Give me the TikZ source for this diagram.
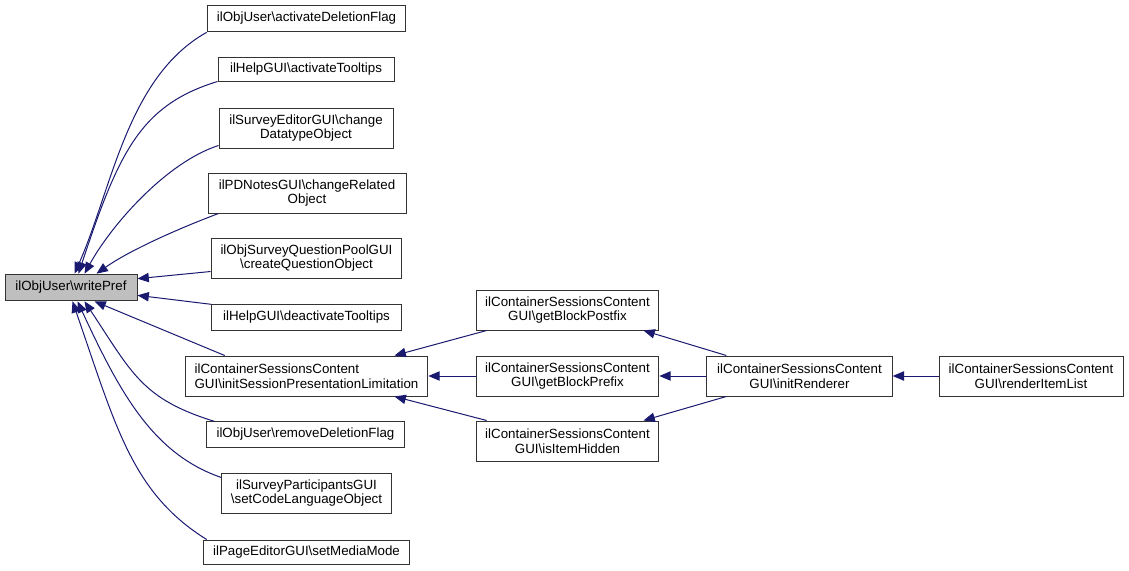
\documentclass[tikz,border=0pt]{standalone}
\usepackage{fontspec}
\setmainfont{Liberation Sans}
\usepackage{tikz}
\usetikzlibrary{arrows.meta,calc}
\definecolor{edgeblue}{HTML}{191970}

\begin{document}
\begin{tikzpicture}[x=0.75pt,y=0.75pt,yscale=-1,xscale=1,
  box/.style={draw=black!80,line width=0.75pt,fill=white,inner sep=0pt,
    font=\fontsize{10}{11}\selectfont,align=center},
  edge/.style={draw=edgeblue,line width=0.75pt,-{Triangle[length=8.5pt,width=7pt]}}]
\useasboundingbox (0,0) rectangle (1129,571);

% Text Node
\node [box,fill=black!25,minimum width=99pt,minimum height=20pt] (wp) at (71,287.5) {ilObjUser\textbackslash writePref};
% Text Node
\node [box,minimum width=149pt,minimum height=20pt] (delFlag) at (306.5,18.5) {ilObjUser\textbackslash activateDeletionFlag};
% Text Node
\node [box,minimum width=132pt,minimum height=18pt] (tips) at (306,69) {ilHelpGUI\textbackslash activateTooltips};
% Text Node
\node [box,minimum width=130.5pt,minimum height=30pt] (dtype) at (306,128) {ilSurveyEditorGUI\textbackslash change\\DatatypeObject};
% Text Node
\node [box,minimum width=148.5pt,minimum height=30pt] (related) at (307,193) {ilPDNotesGUI\textbackslash changeRelated\\Object};
% Text Node
\node [box,minimum width=143pt,minimum height=30pt] (question) at (306.5,258) {ilObjSurveyQuestionPoolGUI\\\textbackslash createQuestionObject};
% Text Node
\node [box,minimum width=142pt,minimum height=19pt] (deact) at (306.5,317.5) {ilHelpGUI\textbackslash deactivateTooltips};
% Text Node
\node [box,align=left,minimum width=182pt,minimum height=30pt] (limit) at (306.5,376) {ilContainerSessionsContent\\GUI\textbackslash initSessionPresentationLimitation};
% Text Node
\node [box,minimum width=148pt,minimum height=19pt] (remove) at (305.5,434.5) {ilObjUser\textbackslash removeDeletionFlag};
% Text Node
\node [box,minimum width=127pt,minimum height=30pt] (codelang) at (306.5,493) {ilSurveyParticipantsGUI\\\textbackslash setCodeLanguageObject};
% Text Node
\node [box,minimum width=155pt,minimum height=18pt] (media) at (306.5,552) {ilPageEditorGUI\textbackslash setMediaMode};
% Text Node
\node [box,minimum width=137pt,minimum height=30pt] (postfix) at (567.5,310) {ilContainerSessionsContent\\GUI\textbackslash getBlockPostfix};
% Text Node
\node [box,minimum width=137pt,minimum height=30pt] (prefix) at (567.5,376) {ilContainerSessionsContent\\GUI\textbackslash getBlockPrefix};
% Text Node
\node [box,minimum width=137pt,minimum height=30pt] (hidden) at (567.5,441) {ilContainerSessionsContent\\GUI\textbackslash isItemHidden};
% Text Node
\node [box,minimum width=139pt,minimum height=30pt] (renderer) at (799.5,376) {ilContainerSessionsContent\\GUI\textbackslash initRenderer};
% Text Node
\node [box,minimum width=138pt,minimum height=30pt] (itemlist) at (1031,376) {ilContainerSessionsContent\\GUI\textbackslash renderItemList};

%Curve Lines
\draw [edge] (delFlag.south west) .. controls (127,77) and (112,189) .. ($(wp.north west)+(70,0)$);
%Curve Lines
\draw [edge] (tips.south west) .. controls (141,105) and (119,151) .. ($(wp.north west)+(74,0)$);
%Curve Lines
\draw [edge] ($(dtype.south west)+(0,-3)$) .. controls (167,162) and (112,224) .. ($(wp.north west)+(80,0)$);
%Curve Lines
\draw [edge] ($(related.south west)+(11,0)$) .. controls (180,228) and (130,250) .. ($(wp.north west)+(92,0)$);
%Straight Lines
\draw [edge] ($(question.south west)+(0,-7)$) -- ($(wp.north east)+(0,5)$);
%Straight Lines
\draw [edge] (deact.north west) -- ($(wp.south east)+(0,-6)$);
%Straight Lines
\draw [edge] ($(limit.north west)+(40,0)$) -- ($(wp.south west)+(90,0)$);
%Curve Lines
\draw [edge] ($(remove.north west)+(8,0)$) .. controls (142,399) and (132,373) .. ($(wp.south west)+(80,0)$);
%Curve Lines
\draw [edge] ($(codelang.north west)+(0,5)$) .. controls (153,454) and (120,393) .. ($(wp.south west)+(73,0)$);
%Curve Lines
\draw [edge] ($(media.north west)+(4,0)$) .. controls (132,493) and (116,427) .. ($(wp.south west)+(68,0)$);

%Straight Lines
\draw [edge] ($(postfix.south west)+(11,0)$) -- ($(limit.north)+(88,0)$);
%Straight Lines
\draw [edge] (prefix.west) -- (limit.east);
%Straight Lines
\draw [edge] ($(hidden.north west)+(11,0)$) -- ($(limit.south)+(88,0)$);
%Straight Lines
\draw [edge] ($(renderer.north west)+(20,0)$) -- ($(postfix.south)+(76,0)$);
%Straight Lines
\draw [edge] (renderer.west) -- (prefix.east);
%Straight Lines
\draw [edge] ($(renderer.south west)+(20,0)$) -- ($(hidden.north)+(76,0)$);
%Straight Lines
\draw [edge] (itemlist.west) -- (renderer.east);

\end{tikzpicture}
\end{document}
